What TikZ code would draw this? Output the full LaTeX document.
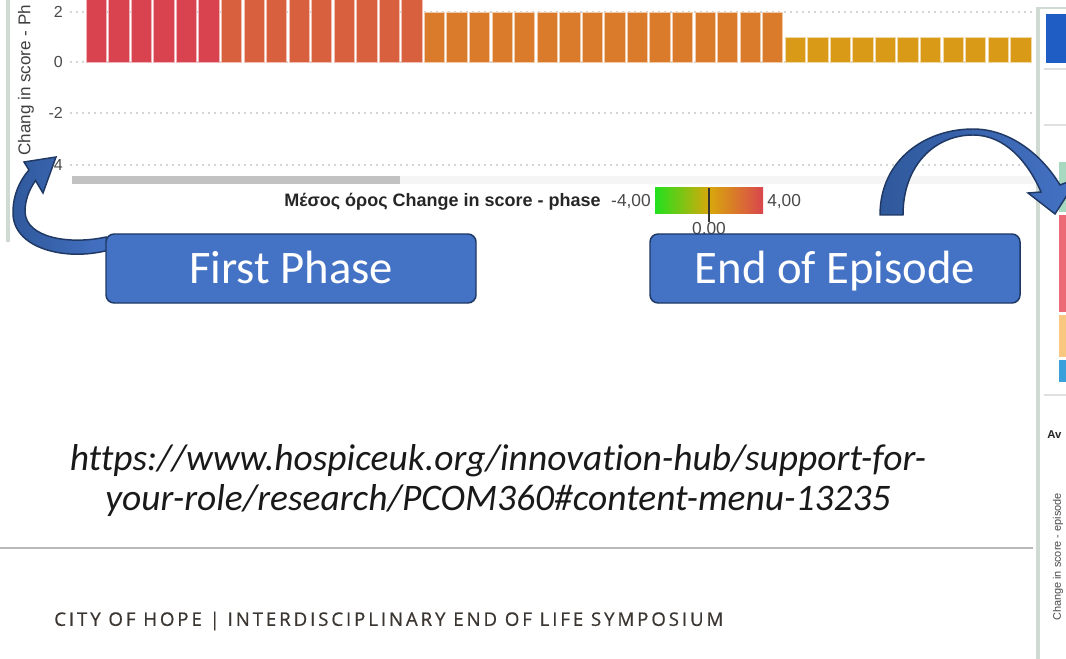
\documentclass[tikz,border=0pt]{standalone}
\usepackage{fontspec}
\setmainfont{Carlito}[Ligatures=NoCommon]
\newfontfamily\chartfont{Liberation Sans}
\newfontfamily\footfont[LetterSpace=15.5, FakeBold=0.6]{Open Sans}
\usetikzlibrary{calc, positioning}

\definecolor{boxblue}{HTML}{4472C4}
\definecolor{boxedge}{HTML}{1F3864}
\definecolor{arrowdark}{HTML}{30599C}
\definecolor{barred}{HTML}{D8434F}
\definecolor{barredor}{HTML}{D9603E}
\definecolor{barorange}{HTML}{D97B2A}
\definecolor{bargold}{HTML}{D99A18}
\definecolor{gridgray}{HTML}{D5D5D5}
\definecolor{axisgray}{HTML}{4A4A4A}
\definecolor{panelline}{HTML}{CFDAD2}
\definecolor{lgreen}{HTML}{22E01E}
\definecolor{lgold}{HTML}{D8A80A}
\definecolor{lred}{HTML}{D9464E}
\definecolor{footgray}{HTML}{3B3631}
\definecolor{hdrblue}{HTML}{1F5CC4}
\definecolor{kgreen}{HTML}{A7D9C1}
\definecolor{kred}{HTML}{EB6A75}
\definecolor{korange}{HTML}{F9C77F}
\definecolor{kblue}{HTML}{3AA0DC}

\begin{document}
\begin{tikzpicture}[x=0.75pt, y=-0.75pt,
    cb/.style={rectangle, rounded corners=6pt, draw=boxedge, line width=1.1pt, fill=boxblue,
      text=white, minimum width=277.5pt, minimum height=51.75pt, inner sep=0pt,
      text height=22.5pt, text depth=0pt, font=\fontsize{35}{40}\selectfont},
    ba/.style={draw=boxedge, line width=1.1pt, left color=arrowdark, right color=boxblue},
    lb/.style={font=\chartfont\fontsize{12}{12}\selectfont, text=axisgray, inner sep=0pt}]
    \useasboundingbox (0,0) rectangle (1066,659);
    \clip (0,0) rectangle (1066,659);
    \fill[white] (0,0) rectangle (1066,659);

    % chart: grid, bars, scrollbar
    \begin{scope}[gridgray, dash pattern=on 1.5pt off 3pt, line width=0.8pt]
        \draw (70,12) -- (1035,12);
        \draw (70,62) -- (1035,62);
        \draw (70,113) -- (1035,113);
        \draw (70,165) -- (1035,165);
    \end{scope}

    \begin{scope}[bar/.style={draw=white!60!#1, fill=#1, line width=0.5pt}]
        \foreach \i in {0,...,5}   \path[bar=barred]    (86+22.55*\i,62) rectangle ++(20.3,-80);
        \foreach \i in {6,...,14}  \path[bar=barredor]  (86+22.55*\i,62) rectangle ++(20.3,-80);
        \foreach \i in {15,...,30} \path[bar=barorange] (86+22.55*\i,62) rectangle ++(20.3,-50);
        \foreach \i in {31,...,41} \path[bar=bargold]   (86+22.55*\i,62) rectangle ++(20.3,-25);
    \end{scope}

    \fill[black!4] (400,176) rectangle (1035,184);
    \fill[black!24] (72,176) rectangle (400,184);
    \fill[panelline] (6,0) rectangle (10,242);

    \node[lb, anchor=east] (y2) at (63,12) {2};
    \node[lb, anchor=east] (y0) at (63,62) {0};
    \node[lb, anchor=east] (ym2) at (63,113) {-2};
    \node[lb, anchor=east] (ym4) at (63,165) {-4};
    \node[lb, font=\chartfont\fontsize{12.8}{13}\selectfont, text=black!75, rotate=90, anchor=west] (ytitle) at (26,156) {Chang in score - Ph};

    % legend
    \node[lb, anchor=east, text=black!85, font=\chartfont\bfseries\fontsize{13.5}{14}\selectfont] (leg) at (601,202) {Μέσος όρος Change in score - phase};
    \node[lb, anchor=east, font=\chartfont\fontsize{13}{14}\selectfont] (lmin) at (651,202) {-4,00};
    \shade[left color=lgreen, right color=lgold] (655,188) rectangle (709,214);
    \shade[left color=lgold, right color=lred] (709,188) rectangle (763,214);
    \draw[black!80, line width=0.8pt] (709,188) -- (709,222);
    \node[lb, anchor=west, font=\chartfont\fontsize{13}{14}\selectfont] (lmax) at (767,202) {4,00};
    \node[lb, font=\chartfont\fontsize{13}{14}\selectfont] (lmid) at (709,230) {0,00};

    % right panel
    \fill[panelline] (1036,8) rectangle (1040,659);
    \draw[panelline, line width=1pt] (1036,8) -- (1066,8);
    \fill[hdrblue] (1046,14) rectangle (1066,63);
    \draw[black!12, line width=1pt] (1044,69) -- (1066,69);
    \draw[black!12, line width=1pt] (1044,125) -- (1066,125);
    \fill[kgreen] (1059,162) rectangle (1066,212);
    \fill[kred] (1059,215) rectangle (1066,312);
    \fill[korange] (1059,315) rectangle (1066,357);
    \fill[kblue] (1059,360) rectangle (1066,382);
    \draw[black!12, line width=1pt] (1044,395) -- (1066,395);
    \node[lb, anchor=west, text=black!85, font=\chartfont\bfseries\fontsize{8.5}{9}\selectfont] (av) at (1047,435) {Av};
    \node[lb, rotate=90, font=\chartfont\fontsize{8.2}{9}\selectfont] (ytitle2) at (1058,557) {Change in score - episode};

    % rule, link and footer
    \draw[black!28, line width=1.5pt] (0,548) -- (1033,548);
    \node[align=center, text=black!90, font=\itshape\fontsize{28.1}{30}\selectfont] (url) at (498,481)
        {https://www.hospiceuk.org/innovation-hub/support-for-\\your-role/research/PCOM360\#content-menu-13235};
    \node[anchor=west, inner sep=0pt, text=footgray, font=\footfont\fontsize{14}{15}\selectfont] (foot) at (54,621)
        {CITY OF HOPE | INTERDISCIPLINARY END OF LIFE SYMPOSIUM};

    % bent arrows
    \path[ba] (109,250) .. controls (65,262) and (12,248) .. (13,212)
        .. controls (13,195) and (20,180) .. (29,170) -- (24,162) -- (56,157) -- (43,193) -- (35.5,180.5)
        .. controls (29,190) and (25,200) .. (25,212) .. controls (26,238) and (70,245) .. (106,237) -- cycle;
    \path[ba] (880,215) .. controls (880,160) and (925,129) .. (973,129)
        .. controls (1010,129) and (1042,155) .. (1060,185) -- (1078,178) -- (1055,214) -- (1028,193) -- (1041,192)
        .. controls (1028,162) and (1005,135) .. (973,135) .. controls (935,135) and (903,165) .. (903,215) -- cycle;

    % callouts
    \node[cb] (fp) at (291,268.5) {First Phase};
    \node[cb] (ee) at (835,268.5) {End of Episode};
\end{tikzpicture}
\end{document}
